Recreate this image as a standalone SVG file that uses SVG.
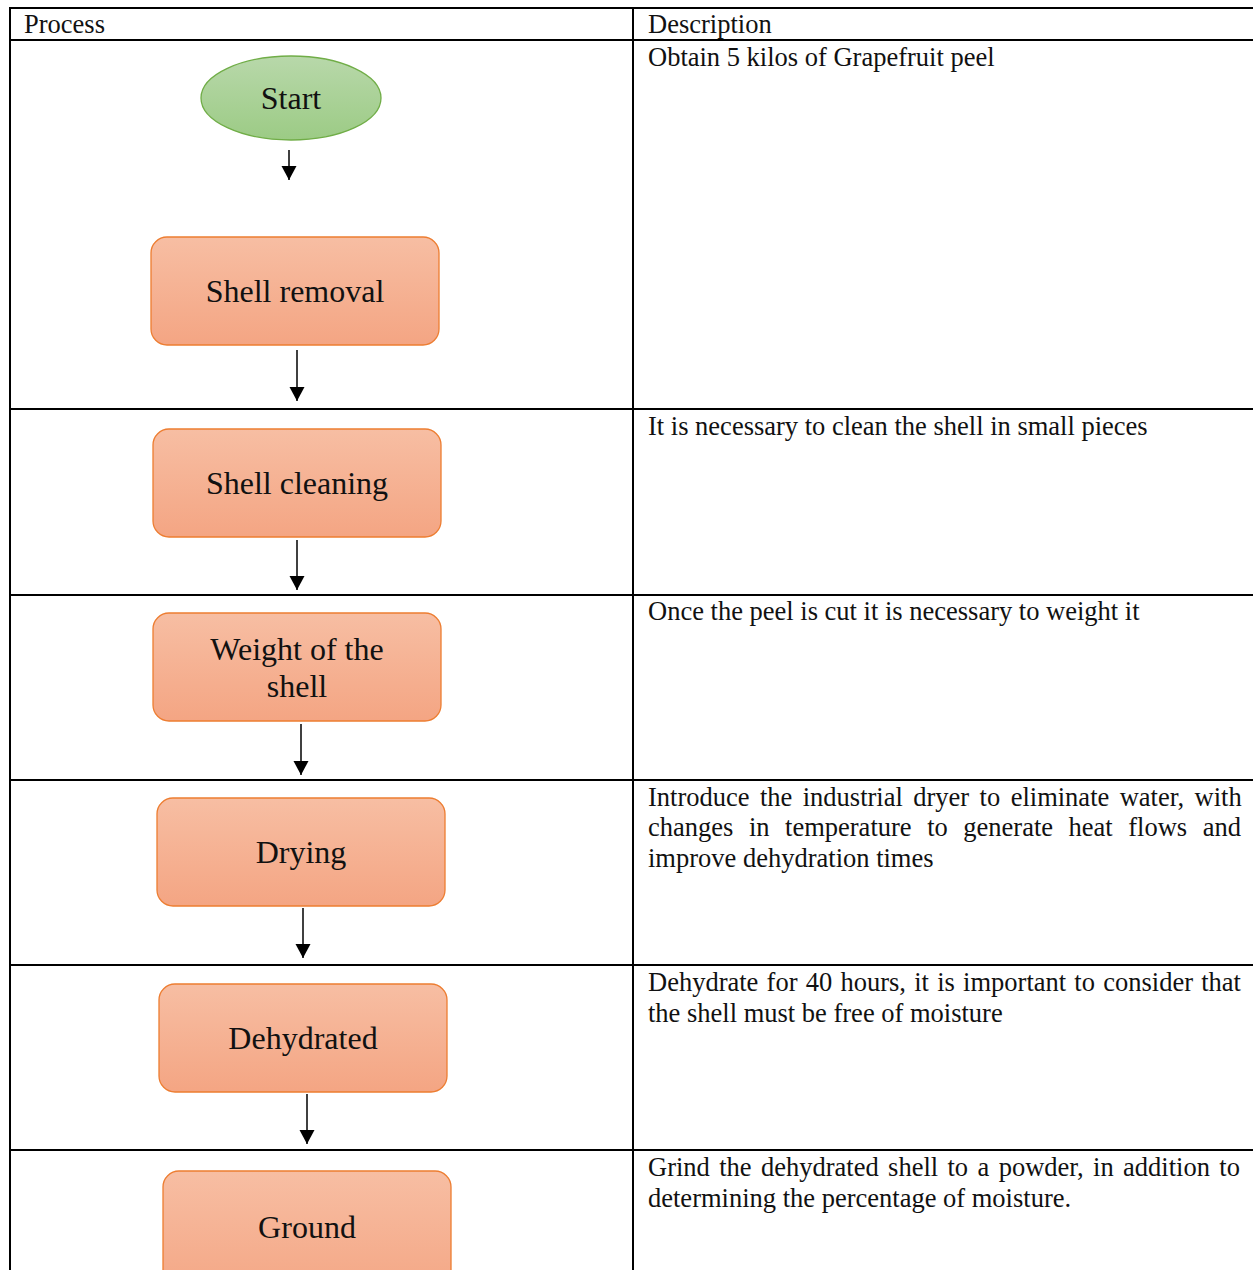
<svg xmlns="http://www.w3.org/2000/svg" width="1253" height="1270" viewBox="0 0 1253 1270">
<style>
.grid{stroke:#000;stroke-width:2;fill:none}
.hd,.desc{font-family:"Liberation Serif","Times New Roman",serif;font-size:26.5px;fill:#111}
.lbl{font-family:"Liberation Serif","Times New Roman",serif;font-size:32px;fill:#111;text-anchor:middle}
.box{fill:url(#og);stroke:#ed7d31;stroke-width:1.3}
.conn{stroke:#000;stroke-width:1.5;fill:none;marker-end:url(#ah)}
</style>
<defs>
<linearGradient id="og" x1="0" y1="0" x2="0" y2="1"><stop offset="0" stop-color="#f7bea3"/><stop offset="1" stop-color="#f4a583"/></linearGradient>
<linearGradient id="gg" x1="0" y1="0" x2="0" y2="1"><stop offset="0" stop-color="#b8d8aa"/><stop offset="1" stop-color="#9ccb85"/></linearGradient>
<marker id="ah" markerUnits="userSpaceOnUse" markerWidth="16" markerHeight="16" refX="14" refY="7.5" orient="auto"><path d="M0,0 L14,7.5 L0,15 Z" fill="#000"/></marker>
</defs>
<g id="table">
<line class="grid" x1="10" y1="8" x2="1253" y2="8"/>
<line class="grid" x1="10" y1="40" x2="1253" y2="40"/>
<line class="grid" x1="10" y1="409" x2="1253" y2="409"/>
<line class="grid" x1="10" y1="595" x2="1253" y2="595"/>
<line class="grid" x1="10" y1="780" x2="1253" y2="780"/>
<line class="grid" x1="10" y1="965" x2="1253" y2="965"/>
<line class="grid" x1="10" y1="1150" x2="1253" y2="1150"/>
<line class="grid" x1="10" y1="7" x2="10" y2="1270"/>
<line class="grid" x1="633" y1="7" x2="633" y2="1270"/>
<text class="hd" x="24" y="33">Process</text>
<text class="hd" x="648" y="33">Description</text>
</g>
<g id="descriptions">
<text class="desc" x="648" y="66">Obtain 5 kilos of Grapefruit peel</text>
<text class="desc" x="648" y="435">It is necessary to clean the shell in small pieces</text>
<text class="desc" x="648" y="620">Once the peel is cut it is necessary to weight it</text>
<text class="desc" x="648" y="806" word-spacing="3.8">Introduce the industrial dryer to eliminate water, with</text>
<text class="desc" x="648" y="836" word-spacing="8.92">changes in temperature to generate heat flows and</text>
<text class="desc" x="648" y="867">improve dehydration times</text>
<text class="desc" x="648" y="991" word-spacing="1.61">Dehydrate for 40 hours, it is important to consider that</text>
<text class="desc" x="648" y="1022">the shell must be free of moisture</text>
<text class="desc" x="648" y="1176" word-spacing="2.76">Grind the dehydrated shell to a powder, in addition to</text>
<text class="desc" x="648" y="1207">determining the percentage of moisture.</text>
</g>
<g id="start">
<ellipse cx="291" cy="98" rx="90" ry="42" fill="url(#gg)" stroke="#70ad47" stroke-width="1.3"/>
<text class="lbl" x="291" y="109">Start</text>
</g>
<g id="shell-removal">
<rect class="box" x="151" y="237" width="288" height="108" rx="16"/>
<text class="lbl" x="295" y="302">Shell removal</text>
</g>
<g id="shell-cleaning">
<rect class="box" x="153" y="429" width="288" height="108" rx="16"/>
<text class="lbl" x="297" y="494">Shell cleaning</text>
</g>
<g id="weight">
<rect class="box" x="153" y="613" width="288" height="108" rx="16"/>
<text class="lbl" x="297" y="660">Weight of the</text>
<text class="lbl" x="297" y="697">shell</text>
</g>
<g id="drying">
<rect class="box" x="157" y="798" width="288" height="108" rx="16"/>
<text class="lbl" x="301" y="863">Drying</text>
</g>
<g id="dehydrated">
<rect class="box" x="159" y="984" width="288" height="108" rx="16"/>
<text class="lbl" x="303" y="1049">Dehydrated</text>
</g>
<g id="ground">
<rect class="box" x="163" y="1171" width="288" height="130" rx="16"/>
<text class="lbl" x="307" y="1238">Ground</text>
</g>
<g id="connectors">
<line class="conn" x1="289" y1="150" x2="289" y2="180"/>
<line class="conn" x1="297" y1="350" x2="297" y2="401"/>
<line class="conn" x1="297" y1="540" x2="297" y2="590"/>
<line class="conn" x1="301" y1="724" x2="301" y2="775"/>
<line class="conn" x1="303" y1="908" x2="303" y2="958"/>
<line class="conn" x1="307" y1="1094" x2="307" y2="1144"/>
</g>
</svg>
